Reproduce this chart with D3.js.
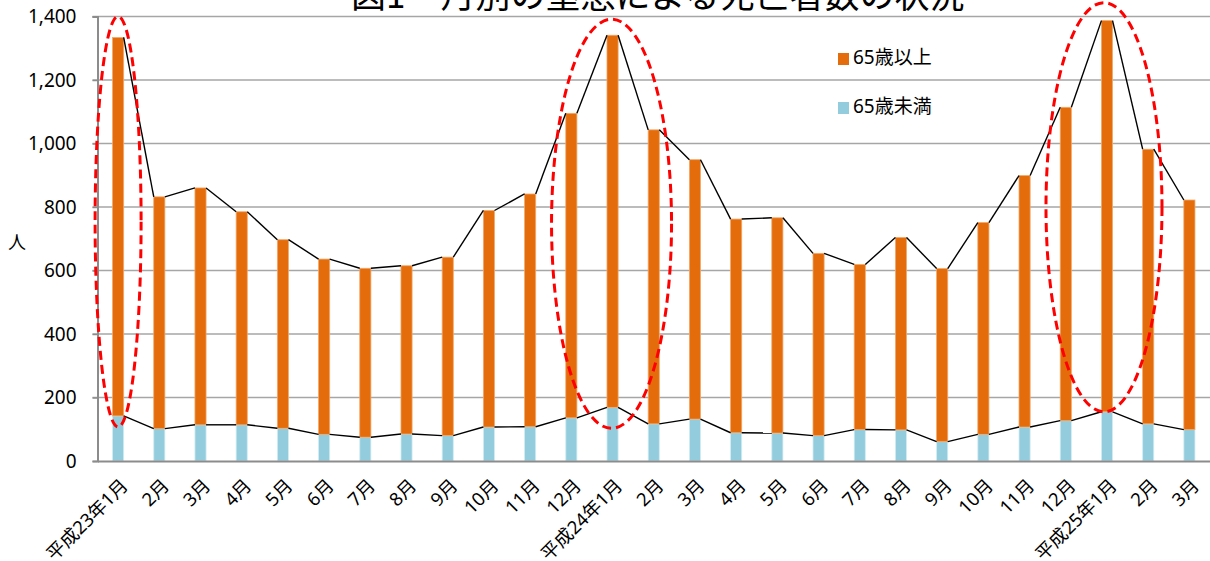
<!DOCTYPE html>
<html>
<head>
<meta charset="utf-8">
<script src="https://cdn.jsdelivr.net/npm/d3@7"></script>
<style>
  html, body { margin: 0; padding: 0; background: #fff; }
  svg { display: block; }
  text { font-family: "Noto Sans", "Noto Sans CJK JP", sans-serif; fill: #000; }
</style>
</head>
<body>
<svg id="chart" width="1210" height="561"></svg>
<script>
// Month labels (Heisei 23/1 to Heisei 25/3)
const categories = [
  "平成23年1月", "2月", "3月", "4月", "5月", "6月", "7月", "8月", "9月", "10月", "11月", "12月",
  "平成24年1月", "2月", "3月", "4月", "5月", "6月", "7月", "8月", "9月", "10月", "11月", "12月",
  "平成25年1月", "2月", "3月"
];
// Deaths under 65
const under65 = [142, 102, 114, 114, 103, 84, 75, 85, 80, 107, 108, 136,
                 169, 117, 132, 89, 88, 80, 99, 98, 61, 84, 107, 127,
                 155, 117, 99];
// Deaths 65 and over
const over65 = [1192, 730, 746, 671, 594, 552, 532, 530, 562, 682, 733, 959,
                1172, 926, 817, 673, 678, 574, 520, 606, 545, 667, 792, 987,
                1232, 865, 723];
const yTicks = [0, 200, 400, 600, 800, 1000, 1200, 1400];
const seriesNames = ["65歳以上", "65歳未満"];
const highlightIdx = [0, 12, 24];

const svg = d3.select("#chart");
const plot = { left: 97.5, right: 1210, top: 16.5, bottom: 461 };
const colors = { over: "#E46C0A", under: "#93CDDD" };

const x = d3.scaleBand().domain(d3.range(categories.length)).range([plot.left, plot.right]).padding(0);
const y = d3.scaleLinear().domain([0, 1400]).range([plot.bottom, plot.top]);
const barW = x.bandwidth() * 0.27;
const cx = i => x(i) + x.bandwidth() / 2;

const rows = categories.map((c, i) => ({ i, under: under65[i], over: over65[i] }));
const stack = d3.stack().keys(["under", "over"])(rows);

// title (runs off the top of the frame)
svg.append("text")
  .attr("x", (plot.left + plot.right) / 2 + 4).attr("y", 8)
  .attr("text-anchor", "middle")
  .style("font-family", "'Noto Sans CJK JP', sans-serif")
  .style("font-size", "35px")
  .text("図1　月別の窒息による死亡者数の状況");

// gridlines
svg.append("g").selectAll("line").data(yTicks.filter(d => d > 0)).join("line")
  .attr("x1", plot.left - 5).attr("x2", plot.right)
  .attr("y1", d => y(d)).attr("y2", d => y(d))
  .attr("stroke", "#A6A6A6").attr("stroke-width", 1.5);

// y axis
const yAxis = d3.axisLeft(y).tickValues(yTicks).tickSize(5).tickPadding(16).tickFormat(d3.format(","));
const gy = svg.append("g").attr("transform", `translate(${plot.left},0)`).call(yAxis);
gy.select(".domain").attr("stroke", "#8C8C8C").attr("stroke-width", 2);
gy.selectAll(".tick line").attr("stroke", "#8C8C8C").attr("stroke-width", 1.5);
gy.selectAll(".tick text").style("font-size", "19px").style("font-family", "'Noto Sans', sans-serif").attr("fill", "#000");

svg.append("text").attr("x", 17).attr("y", 249).attr("text-anchor", "middle")
  .style("font-size", "18px").style("font-family", "'Noto Sans CJK JP', sans-serif").text("人");

// stacked bars
const layerColor = [colors.under, colors.over];
const layerEdge = ["#D3ECF2", "#F2A86A"];
stack.forEach((layer, li) => {
  svg.append("g").selectAll("rect").data(layer).join("rect")
    .attr("x", (d, i) => cx(i) - barW / 2)
    .attr("width", barW)
    .attr("y", d => y(d[1]))
    .attr("height", d => y(d[0]) - y(d[1]))
    .attr("fill", layerColor[li])
    .attr("stroke", layerEdge[li]).attr("stroke-width", 0.8);
});

// series lines joining the tops of adjacent bars
stack.forEach(layer => {
  const segs = layer.slice(0, -1).map((d, i) => [
    [cx(i) + barW / 2, y(d[1])],
    [cx(i + 1) - barW / 2, y(layer[i + 1][1])]
  ]);
  svg.append("g").selectAll("line").data(segs).join("line")
    .attr("x1", s => s[0][0]).attr("y1", s => s[0][1])
    .attr("x2", s => s[1][0]).attr("y2", s => s[1][1])
    .attr("stroke", "#000").attr("stroke-width", 1.4);
});

// x axis
const xAxis = d3.axisBottom(x).tickSize(0).tickFormat(i => categories[i]);
const gx = svg.append("g").attr("transform", `translate(0,${plot.bottom})`).call(xAxis);
gx.select(".domain").attr("stroke", "#8C8C8C").attr("stroke-width", 2);
gx.selectAll(".tick text")
  .attr("text-anchor", "end")
  .attr("transform", "translate(11,26) rotate(-45)")
  .attr("x", 0).attr("y", 0).attr("dy", 0)
  .style("font-size", "18.5px").attr("fill", "#000");

// dashed ellipses around the January peaks
const ellipseRx = [23, 60, 58];
const ellipseDx = [0, -1, -3];
const ellipsePad = [[21, 11], [16, 21], [18, 0]];
svg.append("g").selectAll("ellipse").data(highlightIdx).join("ellipse")
  .attr("cx", (d, k) => cx(d) + ellipseDx[k])
  .attr("cy", (d, k) => (y(under65[d] + over65[d]) - ellipsePad[k][0] + y(under65[d]) + ellipsePad[k][1]) / 2)
  .attr("rx", (d, k) => ellipseRx[k])
  .attr("ry", (d, k) => (y(under65[d]) + ellipsePad[k][1] - (y(under65[d] + over65[d]) - ellipsePad[k][0])) / 2)
  .attr("fill", "none").attr("stroke", "#FF0000").attr("stroke-width", 3)
  .attr("stroke-dasharray", "9,5");

// legend
const legend = svg.append("g");
seriesNames.forEach((name, k) => {
  const ly = 53 + k * 49;
  legend.append("rect").attr("x", 838).attr("y", ly).attr("width", 11).attr("height", 12)
    .attr("fill", k === 0 ? colors.over : colors.under);
  legend.append("text").attr("x", 853).attr("y", ly + 11).style("font-size", "19px").text(name);
});
</script>
</body>
</html>
